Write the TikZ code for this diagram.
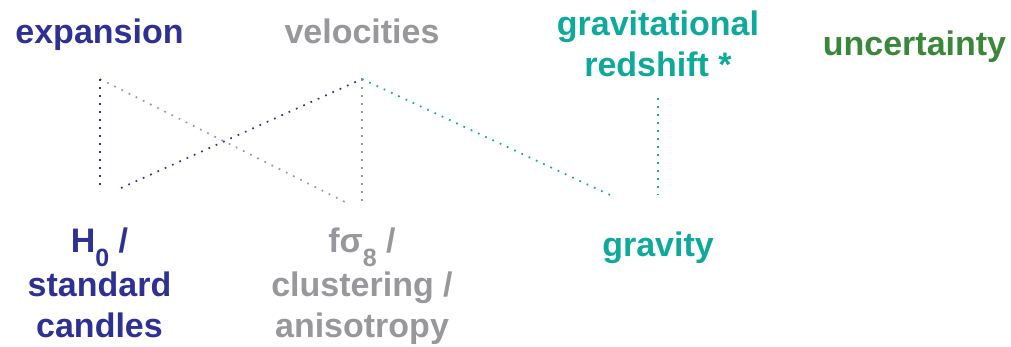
\documentclass[tikz,border=0pt]{standalone}
\usepackage{fontspec}
\setmainfont{Liberation Sans}
\definecolor{expblue}{HTML}{2E3192}
\definecolor{velgrey}{HTML}{98989C}
\definecolor{gravteal}{HTML}{0DA99B}
\definecolor{uncgreen}{HTML}{3B873A}
\newcommand{\lowsub}[1]{\raisebox{-14pt}{\fontsize{25}{25}\selectfont #1}}
\tikzset{
  label text/.style={font=\fontsize{34}{41}\selectfont\bfseries, inner sep=0pt, align=center, anchor=base},
  dotline/.style={line width=1.7pt, dash pattern=on 1.7pt off 6.3pt},
}
\begin{document}
\begin{tikzpicture}[x=1pt,y=-1pt]
  \useasboundingbox (0,0) rectangle (1011,347);

  % labels (anchor=base sits on the last line of a stacked label)
  \node[label text, text=expblue]  (exp) at (99.5,44) {expansion};
  \node[label text, text=velgrey]  (vel) at (362,44) {velocities};
  \node[label text, text=gravteal] (grz) at (658,77) {gravitational\\redshift *};
  \node[label text, text=uncgreen] (unc) at (914.5,56) {uncertainty};
  \node[label text, text=expblue]  (hnot) at (99.5,337) {H\lowsub{0} /\\[3pt]standard\\candles};
  \node[label text, text=velgrey]  (fsig) at (362,337) {fσ\lowsub{8} /\\[3pt]clustering /\\anisotropy};
  \node[label text, text=gravteal] (grav) at (658,256) {gravity};

  % connector end points
  \coordinate (eT) at (100,79);
  \coordinate (eB) at (100,191);
  \coordinate (eD) at (121,188);
  \coordinate (vT) at (362,79);
  \coordinate (vB) at (362,205);
  \coordinate (vD) at (345,202);
  \coordinate (gT) at (658,98);
  \coordinate (gB) at (658,195);
  \coordinate (gD) at (610,195);

  % dotted links
  \draw[dotline, velgrey]  (eT) -- (vD);
  \draw[dotline, expblue]  (eT) -- (eB);
  \draw[dotline, expblue]  (eD) -- (vT);
  \draw[dotline, velgrey]  (vT) -- (vB);
  \draw[dotline, gravteal] (vT) -- (gD);
  \draw[dotline, gravteal] (gT) -- (gB);
\end{tikzpicture}
\end{document}
